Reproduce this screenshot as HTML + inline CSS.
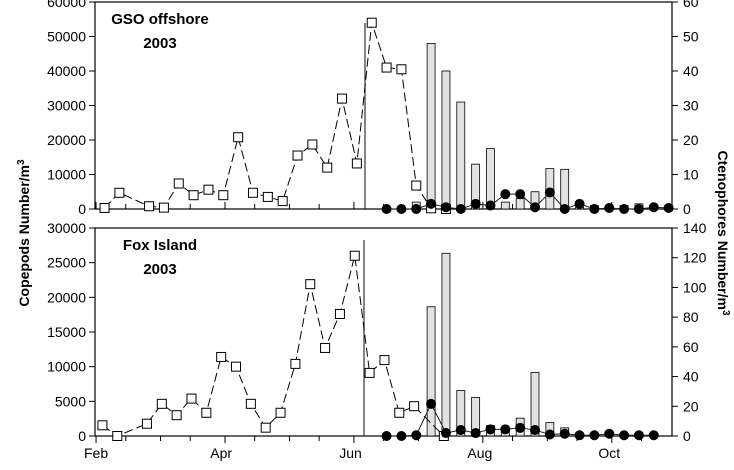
<!DOCTYPE html>
<html><head><meta charset="utf-8"><style>
body{margin:0;background:#fff}
svg{display:block;font-family:"Liberation Sans",Arial,sans-serif}
</style></head><body>
<svg id="c" width="734" height="470" viewBox="0 0 734 470"></svg>
<script>
// ---- data ----
const monthLabels = ["Feb","Apr","Jun","Aug","Oct"];
const monthDays = [32,91,152,213,274];
const gsoCopeDays = [36,43,57,64,71,78,85,92,99,106,113,120,127,134,141,148,155,162,169,176,183,190,197];
const gsoCopeVals = [300,4700,800,400,7400,4000,5600,4000,20800,4700,3500,2300,15500,18700,12000,32000,13200,54000,41000,40500,6800,200,0];
const gsoCtenoDays = [169,176,183,190,197,204,211,218,225,232,239,246,253,260,267,274,281,288,295,302];
const gsoCtenoVals = [0,0,0,1.5,0.5,0,1.5,1,4.3,4.3,0.5,4.8,0,1.5,0,0.3,0,0,0.5,0.3];
const gsoBarDays = [183,190,197,204,211,218,225,232,239,246,253,260,267,274,281,288,295];
const gsoBarVals = [2,48,40,31,13,17.5,2,3,5,11.7,11.5,0.5,1,0.5,1,1.5,0.5];
const foxCopeDays = [35,42,56,63,70,77,84,91,98,105,112,119,126,133,140,147,154,161,168,175,182,196];
const foxCopeVals = [1540,0,1770,4640,3000,5400,3350,11400,10000,4640,1200,3350,10400,21900,12700,17600,26000,9100,10950,3350,4300,0];
const foxCtenoDays = [169,176,183,190,197,204,211,218,225,232,239,246,253,260,267,274,281,288,295];
const foxCtenoVals = [0,0,0.5,21.6,2,4,2,4.5,4.5,5.5,4,1,1.5,0.5,0.5,1.5,0.5,0.5,0.5];
const foxBarDays = [190,197,204,211,218,225,232,239,246,253,260,267,274,281,288,295];
const foxBarVals = [87,123,30.6,26,7,3,12,42.7,9,5.5,2,1,1,1,0.5,0.5];
const gsoLeftTicks = [0,10000,20000,30000,40000,50000,60000];
const gsoRightTicks = [0,10,20,30,40,50,60];
const foxLeftTicks = [0,5000,10000,15000,20000,25000,30000];
const foxRightTicks = [0,20,40,60,80,100,120,140];

const svg=document.getElementById('c');
const NS='http://www.w3.org/2000/svg';
function mk(t,a,p){const e=document.createElementNS(NS,t);for(const k in a)e.setAttribute(k,a[k]);(p||svg).appendChild(e);return e;}
const X0=95,X1=672,D0=31.5,D1=303.6;
const x=d=>X0+(d-D0)/(D1-D0)*(X1-X0);

function panel(name,top,bot,lmax,rmax,lt,rt,cd,cv,bd,bv,kd,kv,title,vx,vtop,showX){
  const g=mk('g',{});
  
  
  const yl=v=>bot-v/lmax*(bot-top), yr=v=>bot-v/rmax*(bot-top);
  const fr=mk('rect',{x:X0,y:top,width:X1-X0,height:bot-top,fill:'none',stroke:'#000','stroke-width':1.2},g);
  
  lt.forEach(v=>{mk('line',{x1:X0-6,x2:X0,y1:yl(v),y2:yl(v),stroke:'#000'},g);
    const t=mk('text',{x:X0-9,y:yl(v)+5,'text-anchor':'end','font-size':14},g);t.textContent=v;
    });
  rt.forEach(v=>{mk('line',{x1:X1,x2:X1+6,y1:yr(v),y2:yr(v),stroke:'#000'},g);
    const t=mk('text',{x:X1+11,y:yr(v)+5,'font-size':14},g);t.textContent=v;
    });
  for(let m=0;m<10;m++){[1,15].forEach(dd=>{const day=monthDays[0]+m*30.4+(dd-1);
    if(x(day)<X1-2){const L=(dd==1&&m%2==0)?7:5;
      if(showX)mk('line',{x1:x(day),x2:x(day),y1:bot,y2:bot+L,stroke:'#000'},g);
      else mk('line',{x1:x(day),x2:x(day),y1:bot,y2:bot-L,stroke:'#000'},g);}});}
  bd.forEach((d,i)=>{const r=mk('rect',{x:x(d)-4,y:yr(bv[i]),width:8,height:bot-yr(bv[i]),fill:'#e2e2e2',stroke:'#000','stroke-width':0.8},g);
    });
  mk('line',{x1:vx,x2:vx,y1:vtop,y2:bot,stroke:'#333','stroke-width':1.2},g);
  const cp=mk('polyline',{points:cd.map((d,i)=>x(d)+','+yl(cv[i])).join(' '),fill:'none',stroke:'#000','stroke-width':1,'stroke-dasharray':'9,4'},g);
  
  cd.forEach((d,i)=>{const r=mk('rect',{x:x(d)-4.5,y:yl(cv[i])-4.5,width:9,height:9,fill:'#fff',stroke:'#000','stroke-width':1},g);
    });
  const kp=mk('polyline',{points:kd.map((d,i)=>x(d)+','+yr(kv[i])).join(' '),fill:'none',stroke:'#222','stroke-width':1},g);
  
  kd.forEach((d,i)=>{const c=mk('circle',{cx:x(d),cy:yr(kv[i]),r:5,fill:'#000'},g);
    });
  const t1=mk('text',{x:160,y:top+22,'text-anchor':'middle','font-size':15,'font-weight':'bold'},g);t1.textContent=title;
  
  const t2=mk('text',{x:160,y:top+46,'text-anchor':'middle','font-size':15,'font-weight':'bold'},g);t2.textContent='2003';
  
  if(showX){monthLabels.forEach((m,i)=>{const t=mk('text',{x:x(monthDays[i]),y:bot+22,'text-anchor':'middle','font-size':14},g);t.textContent=m;
    });}
}
panel('gso',2,209,60000,60,gsoLeftTicks,gsoRightTicks,gsoCopeDays,gsoCopeVals,gsoBarDays,gsoBarVals,gsoCtenoDays,gsoCtenoVals,'GSO offshore',365,23,false);
panel('fox',228,436,30000,140,foxLeftTicks,foxRightTicks,foxCopeDays,foxCopeVals,foxBarDays,foxBarVals,foxCtenoDays,foxCtenoVals,'Fox Island',364,240,true);

const a=document.createElementNS(NS,'text');a.setAttribute('transform','translate(29,233) rotate(-90)');a.setAttribute('text-anchor','middle');a.setAttribute('font-size','14');a.setAttribute('font-weight','bold');
a.innerHTML='Copepods Number/m<tspan dy="-5" font-size="10">3</tspan>';


svg.appendChild(a);
const b=document.createElementNS(NS,'text');b.setAttribute('transform','translate(718,233) rotate(90)');b.setAttribute('text-anchor','middle');b.setAttribute('font-size','14');b.setAttribute('font-weight','bold');
b.innerHTML='Ctenophores Number/m<tspan dy="-5" font-size="10">3</tspan>';


svg.appendChild(b);
</script>
</body></html>
